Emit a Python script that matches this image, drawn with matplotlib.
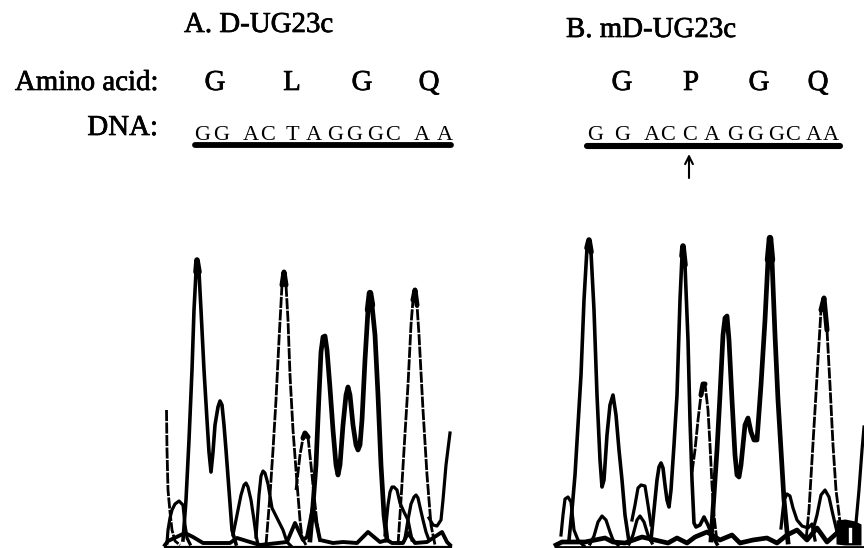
import matplotlib
matplotlib.use("Agg")
import matplotlib.pyplot as plt
import matplotlib.patheffects as pe

plt.rcParams['font.family'] = ['Liberation Serif', 'DejaVu Serif']

# traces, (x, y) in image pixels
# panel A
a_g1_x = [183, 186, 189, 192, 194, 196, 197, 199, 201, 204, 207, 209, 211, 213, 215, 218, 220, 222, 224, 226, 229, 232, 236]
a_g1_y = [540, 500, 440, 370, 310, 272, 260, 272, 310, 370, 420, 452, 472, 452, 425, 407, 401, 405, 425, 450, 490, 530, 544]
a_t1_x = [166.5, 167, 168, 170, 172, 175, 180]
a_t1_y = [410, 450, 490, 512, 530, 541, 545]
a_h1_x = [167, 168, 170, 172, 175, 179, 183, 185, 187, 190]
a_h1_y = [543, 530, 518, 510, 504, 501, 505, 525, 538, 544]
a_h2_x = [233, 237, 241, 244, 246, 248, 251, 254, 256, 258]
a_h2_y = [535, 515, 495, 485, 483, 487, 500, 520, 535, 545]
a_h3_x = [256, 259, 261, 263, 265, 268, 272, 278, 283, 287, 291]
a_h3_y = [537, 495, 476, 471, 473, 484, 508, 520, 530, 542, 546]
a_t2_x = [266, 270, 273, 276, 279, 282, 284, 286, 288, 290, 293, 297, 300, 302, 306]
a_t2_y = [545, 495, 450, 400, 340, 285, 272, 285, 320, 375, 430, 483, 520, 538, 545]
a_t3_x = [296, 300, 303, 305, 308, 311, 314, 317, 320]
a_t3_y = [490, 455, 438, 433, 437, 465, 495, 523, 542]
a_c1_x = [310, 313, 316, 319, 321, 323, 325, 327, 330, 333, 336, 338, 340, 343, 346, 348, 350, 353, 356, 358, 360, 362, 365, 368, 370, 372, 375, 378, 381, 384, 387]
a_c1_y = [540, 505, 465, 395, 352, 337, 336, 350, 388, 430, 465, 475, 465, 425, 395, 387, 395, 425, 445, 450, 445, 420, 360, 310, 293, 305, 335, 395, 465, 515, 540]
a_t4_x = [398, 401, 404, 408, 411, 413, 415, 417, 419, 423, 427, 431, 435]
a_t4_y = [545, 500, 450, 385, 325, 300, 290, 305, 335, 410, 475, 525, 545]
a_h4_x = [385, 388, 390, 392, 394, 397, 400, 404, 408, 412]
a_h4_y = [535, 505, 492, 487, 487, 490, 503, 512, 520, 540]
a_h5_x = [405, 408, 411, 414, 416, 418, 420, 423, 426, 429]
a_h5_y = [538, 520, 504, 497, 495, 498, 507, 520, 532, 540]
a_tail_x = [429, 433, 437, 441, 443, 446, 450]
a_tail_y = [518, 525, 526, 520, 500, 465, 433]
a_base_x = [165, 168, 185, 193, 203, 230, 237, 250, 260, 287, 295, 303, 307, 313, 320, 333, 343, 357, 368, 380, 387, 392, 403, 408, 415, 427, 433, 442, 447, 450]
a_base_y = [545, 541, 533, 537, 543, 543, 538, 542, 545, 542, 523, 540, 537, 507, 540, 543, 542, 543, 532, 542, 540, 543, 543, 533, 543, 542, 538, 532, 542, 545]
a_line_x = [165, 451]
a_line_y = [547, 547]

# panel B
b_g1_x = [569, 572, 575, 578, 581, 584, 587, 589, 591, 594, 597, 600, 602, 604, 607, 610, 613, 616, 619, 622, 625, 629]
b_g1_y = [540, 510, 475, 425, 375, 300, 248, 240, 252, 310, 395, 460, 487, 480, 435, 405, 395, 415, 450, 480, 515, 542]
b_h1_x = [561, 563, 565, 568, 571, 574, 578, 584]
b_h1_y = [535, 515, 499, 497, 502, 530, 540, 546]
b_h2_x = [590, 594, 598, 602, 606, 610, 613, 618]
b_h2_y = [544, 536, 522, 516, 520, 532, 540, 545]
b_h3_x = [629, 633, 637, 640, 644, 648, 652]
b_h3_y = [544, 535, 520, 516, 522, 535, 543]
b_h4_x = [632, 635, 638, 641, 645, 648, 651]
b_h4_y = [520, 505, 488, 485, 486, 505, 525]
b_t1_x = [651, 654, 657, 659, 661, 663, 665, 667, 669, 671, 674, 677, 680, 682, 683, 685, 688, 690, 692, 694, 696, 700, 704, 708, 712, 717]
b_t1_y = [540, 510, 480, 467, 463, 468, 485, 500, 507, 490, 445, 395, 300, 256, 246, 265, 340, 420, 480, 523, 527, 525, 517, 525, 535, 544]
b_t2_x = [692, 695, 698, 701, 703, 705, 708, 710, 712, 714, 717]
b_t2_y = [472, 450, 420, 395, 384, 384, 410, 445, 485, 515, 542]
b_c1_x = [711, 714, 717, 720, 723, 725, 727, 729, 732, 735, 737, 739, 741, 745, 748, 751, 754, 757, 761, 765, 768, 770, 772, 775, 778, 781, 784, 788]
b_c1_y = [540, 495, 450, 395, 335, 318, 316, 340, 400, 455, 475, 477, 465, 425, 418, 432, 440, 440, 385, 320, 260, 238, 260, 335, 400, 450, 500, 542]
b_t3_x = [806, 809, 812, 815, 818, 821, 824, 827, 830, 833, 836, 840]
b_t3_y = [540, 510, 460, 410, 360, 310, 298, 330, 385, 445, 490, 522]
b_h5_x = [781, 784, 787, 790, 793, 797, 802, 808, 812, 815]
b_h5_y = [528, 500, 494, 496, 508, 520, 526, 528, 524, 540]
b_h6_x = [813, 817, 821, 825, 829, 833, 837]
b_h6_y = [530, 515, 495, 490, 497, 515, 532]
b_tail_x = [856, 859, 862, 864]
b_tail_y = [523, 490, 450, 427]
b_base_x = [556, 562, 585, 595, 605, 613, 625, 642, 655, 668, 677, 687, 695, 707, 720, 732, 740, 753, 767, 777, 787, 797, 807, 817, 827, 837]
b_base_y = [545, 542, 542, 540, 538, 542, 543, 537, 540, 543, 538, 543, 537, 532, 540, 535, 543, 540, 538, 543, 535, 530, 540, 528, 542, 533]
b_line_x = [556, 864]
b_line_y = [547, 547]
b_blob_x = [836, 845, 855, 861]
b_blob_top = [520, 519, 521, 524]
b_blob_bottom = [544, 545, 545, 545]
b_hole_x = [850, 850]
b_hole_y = [529, 541]

amino_a = ['G', 'L', 'G', 'Q']
amino_a_x = [215, 292, 362, 429]
amino_b = ['G', 'P', 'G', 'Q']
amino_b_x = [622, 691, 759, 818]
dna_a = list("GGACTAGGGCAA")
dna_a_x = [202, 221, 251, 268, 292, 314, 335, 354, 375, 393, 422, 445]
dna_b = list("GGACCAGGGCAA")
dna_b_x = [595, 622, 652, 668, 690, 712, 735, 755, 776, 793, 814, 831]

fig = plt.figure(figsize=(8.64, 5.48), dpi=100)
ax = fig.add_axes([0, 0, 1, 1])
ax.set_xlim(0, 864)
ax.set_ylim(548, 0)
ax.axis('off')

bold = [pe.withStroke(linewidth=0.5, foreground='black')]

# dark tip on top of a peak, like the scan
def tip(x, y, lw):
    k = y.index(min(y))
    ax.plot(x[k - 1:k + 2], y[k - 1:k + 2], color='black', lw=lw, solid_capstyle='round')

for x, y in [(a_g1_x, a_g1_y), (b_g1_x, b_g1_y), (b_t1_x, b_t1_y)]:
    ax.plot(x, y, color='black', lw=2.6, solid_joinstyle='round')
    tip(x, y, 4)
for x, y in [(a_c1_x, a_c1_y), (b_c1_x, b_c1_y)]:
    ax.plot(x, y, color='black', lw=3.4, solid_joinstyle='round')
    tip(x, y, 4.6)
for x, y in [(a_h1_x, a_h1_y), (a_h2_x, a_h2_y), (a_h3_x, a_h3_y), (a_h4_x, a_h4_y), (a_h5_x, a_h5_y),
             (a_tail_x, a_tail_y), (b_h1_x, b_h1_y), (b_h2_x, b_h2_y), (b_h3_x, b_h3_y), (b_h4_x, b_h4_y),
             (b_h5_x, b_h5_y), (b_h6_x, b_h6_y), (b_tail_x, b_tail_y)]:
    ax.plot(x, y, color='black', lw=2.3, solid_joinstyle='round')
for x, y in [(a_t1_x, a_t1_y), (a_t2_x, a_t2_y), (a_t3_x, a_t3_y), (a_t4_x, a_t4_y),
             (b_t2_x, b_t2_y), (b_t3_x, b_t3_y)]:
    ax.plot(x, y, color='black', lw=2, ls=(0, (4, 0.5)))
    tip(x, y, 3.6)
ax.plot(a_base_x, a_base_y, color='black', lw=2.8, solid_joinstyle='round')
ax.plot(b_base_x, b_base_y, color='black', lw=3.4, solid_joinstyle='round')
ax.plot(a_line_x, a_line_y, color='black', lw=1.6)
ax.plot(b_line_x, b_line_y, color='black', lw=2)
ax.fill_between(b_blob_x, b_blob_top, b_blob_bottom, color='black', lw=0)
ax.plot(b_hole_x, b_hole_y, color='white', lw=2.4)

ax.text(184, 25, "A. D-UG23c", fontsize=20.8, ha='left', va='center', path_effects=bold)
ax.text(566, 30, "B. mD-UG23c", fontsize=20.8, ha='left', va='center', path_effects=bold)
ax.text(158, 83, "Amino acid:", fontsize=20.8, ha='right', va='center', path_effects=bold)
ax.text(158, 128, "DNA:", fontsize=20.8, ha='right', va='center', path_effects=bold)

for s, x in zip(amino_a, amino_a_x):
    ax.text(x, 83, s, fontsize=20.8, ha='center', va='center', path_effects=bold)
for s, x in zip(amino_b, amino_b_x):
    ax.text(x, 83, s, fontsize=20.8, ha='center', va='center', path_effects=bold)
for s, x in zip(dna_a, dna_a_x):
    ax.text(x, 135, s, fontsize=16, ha='center', va='center')
for s, x in zip(dna_b, dna_b_x):
    ax.text(x, 135, s, fontsize=16, ha='center', va='center')

ax.plot([195, 451], [145, 145], color='black', lw=4.2, solid_capstyle='round')
ax.plot([587, 840], [145.5, 145.5], color='black', lw=4.4, solid_capstyle='round')
ax.annotate('', xy=(689, 154), xytext=(689, 178),
            arrowprops=dict(arrowstyle='->', color='black', lw=1.5, mutation_scale=14, shrinkA=0, shrinkB=0))

fig.savefig("out.png", dpi=100)
